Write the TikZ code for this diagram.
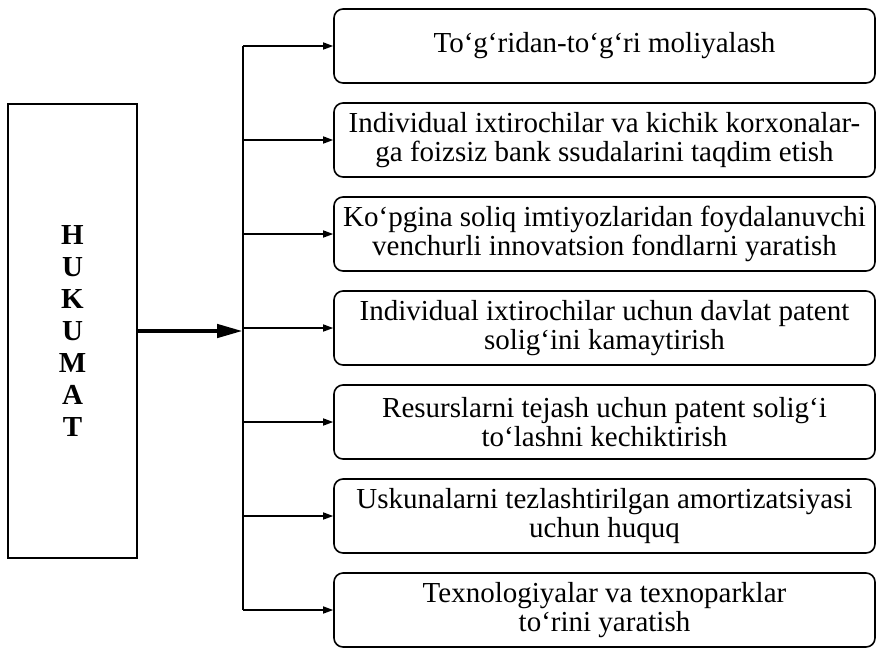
\documentclass[tikz,border=0pt]{standalone}
\usepackage{fontspec}
\setmainfont{Liberation Serif}
\usetikzlibrary{arrows.meta,positioning}

\begin{document}
\begin{tikzpicture}[x=1pt,y=-1pt,
gov_box/.style ={rectangle, draw=black, line width=1.8pt, minimum width=129pt, minimum height=454pt, inner sep=0pt, align=center, font=\fontsize{29}{32}\selectfont\bfseries},
measure_box/.style ={rectangle, rounded corners=9pt, draw=black, line width=1.6pt, minimum width=541pt, minimum height=74pt, align=center, inner sep=0pt, font=\fontsize{29}{29}\selectfont},
line/.style ={draw, line width=1.5pt, -{Triangle[length=10pt,width=7pt]}, shorten >=0pt},
main_line/.style ={draw, line width=4.5pt, -{Triangle[length=26pt,width=13pt]}},
node distance=18.4pt]
  \useasboundingbox (0,0) rectangle (884,649);
  % government block
    \node [gov_box] (gov) at (72.5,331) {H\\U\\K\\U\\M\\A\\T};
  % measures, top to bottom
    \node [measure_box] (direct) at (604.5,46) {To‘g‘ridan-to‘g‘ri moliyalash};
    \node [measure_box, below=of direct] (loans) {Individual ixtirochilar va kichik korxonalar-\\ga foizsiz bank ssudalarini taqdim etish};
    \node [measure_box, below=of loans] (funds) {Ko‘pgina soliq imtiyozlaridan foydalanuvchi\\venchurli innovatsion fondlarni yaratish};
    \node [measure_box, below=of funds] (patent) {Individual ixtirochilar uchun davlat patent\\solig‘ini kamaytirish};
    \node [measure_box, below=of patent] (delay) {Resurslarni tejash uchun patent solig‘i\\to‘lashni kechiktirish};
    \node [measure_box, below=of delay] (amort) {Uskunalarni tezlashtirilgan amortizatsiyasi\\uchun huquq};
    \node [measure_box, below=of amort] (parks) {Texnologiyalar va texnoparklar\\to‘rini yaratish};
  % bus line
    \coordinate (bus) at (243,331);
    \draw [line width=1.5pt] (bus |- direct.west) -- (bus |- parks.west);
    \path [main_line] (gov.east |- bus) -- (bus);
  % connecting bus with measures
    \begin{scope}[every path/.style=line]
      \path (bus |- direct.west) -- (direct.west);
      \path (bus |- loans.west)  -- (loans.west);
      \path (bus |- funds.west)  -- (funds.west);
      \path (bus |- patent.west) -- (patent.west);
      \path (bus |- delay.west)  -- (delay.west);
      \path (bus |- amort.west)  -- (amort.west);
      \path (bus |- parks.west)  -- (parks.west);
    \end{scope}
\end{tikzpicture}
\end{document}
